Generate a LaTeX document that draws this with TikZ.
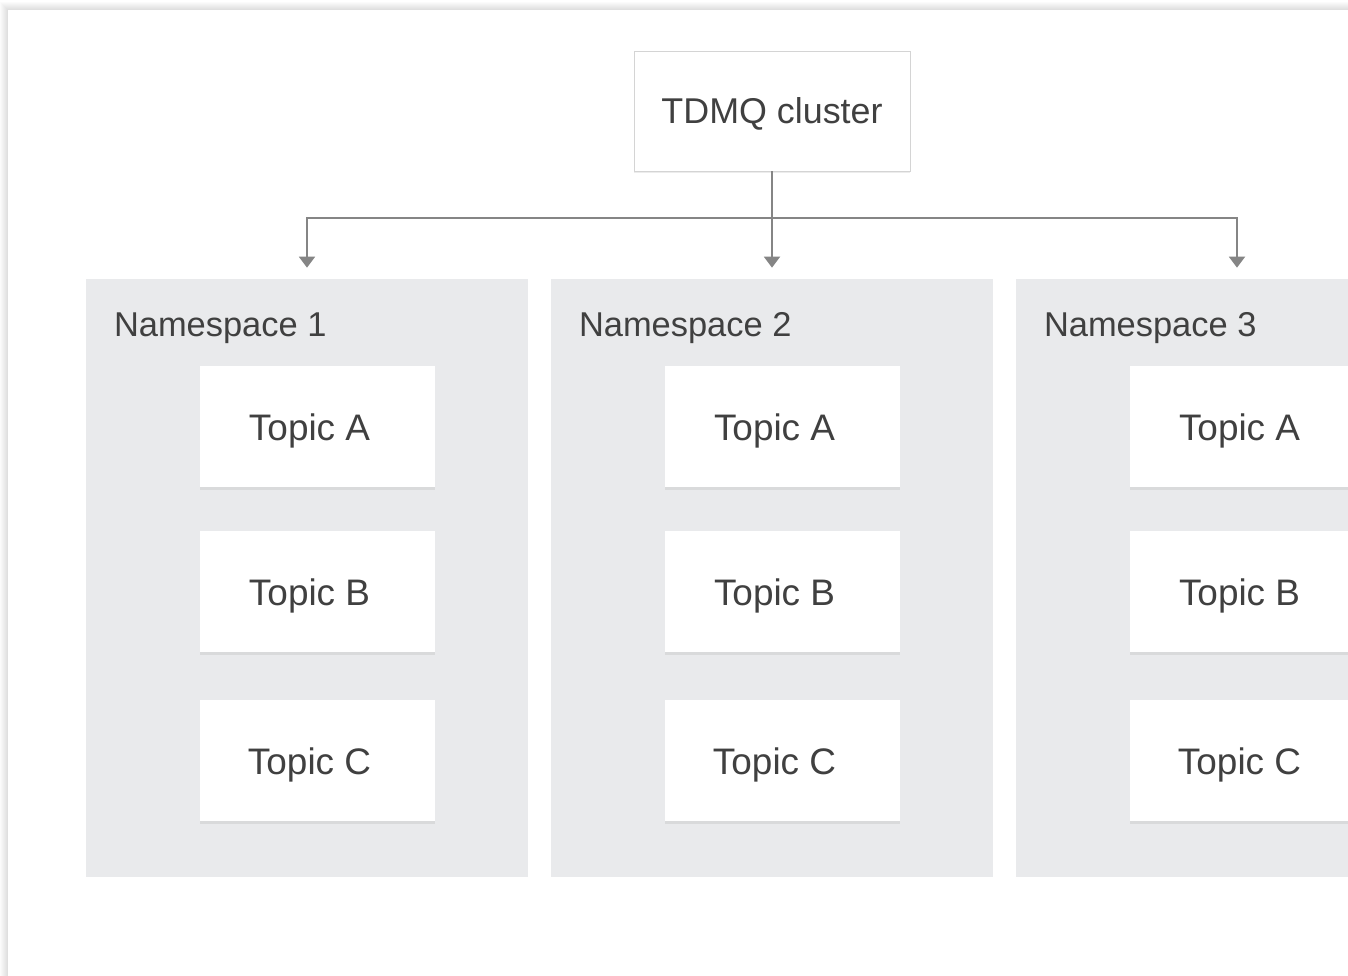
\documentclass[tikz,border=0pt]{standalone}
\usepackage{fontspec}
\setmainfont{Liberation Sans}
\usetikzlibrary{trees,arrows.meta,shadows}

\definecolor{nsgray}{HTML}{E9EAEC}
\definecolor{linegray}{HTML}{858585}
\definecolor{txtgray}{HTML}{404040}
\definecolor{edgegray}{HTML}{D4D4D4}

\tikzset{
  box/.style={fill=white, text=txtgray, inner sep=0pt, text depth=0pt,
    drop shadow={shadow xshift=0pt, shadow yshift=-0.05cm, opacity=0.15}},
  clusterbox/.style={box, draw=edgegray, line width=0.5pt,
    minimum width=5.52cm, minimum height=2.4cm, font=\fontsize{20.4}{24}\selectfont},
  panel/.style={fill=nsgray, minimum width=8.84cm, minimum height=11.96cm, inner sep=0pt},
  topicbox/.style={box, minimum width=4.7cm, minimum height=2.42cm,
    font=\fontsize{21}{25}\selectfont, execute at end node=\hspace{0.3cm}},
  nslabel/.style={text=txtgray, font=\fontsize{19.6}{23}\selectfont, inner sep=0pt, anchor=base west},
}

\begin{document}
\begin{tikzpicture}
  [level distance=9.34cm, sibling distance=9.3cm,
   edge from parent/.style={draw=linegray, line width=1.1pt,
     -{Triangle[width=0.32cm,length=0.22cm]}, shorten >=0.22cm},
   edge from parent path={(\tikzparentnode.south) -- ++(0,-0.94) -| (\tikzchildnode.north)}]
  \path[use as bounding box] (0,0) rectangle (26.96,-19.52);
  \clip (0,0) rectangle (26.96,-19.52);
  \fill[white] (0,0) rectangle (26.96,-19.52);
  % soft shadow round the sheet
  \foreach \d in {1,...,8}
    \fill[black, opacity=0.014] (0.16-\d*0.02,-0.2+\d*0.02) rectangle (28,-21);
  \fill[white] (0.16,-0.2) rectangle (28,-21);

  \node[clusterbox] (cluster) at (15.44,-2.22) {TDMQ cluster}
    child foreach \n in {1,2,3} {node[panel] (ns\n) {}};

  \foreach \n in {1,2,3}{
    \node[nslabel] (label\n) at ([xshift=0.56cm, yshift=-1.16cm]ns\n.north west) {Namespace \n};
    \foreach \t/\dy in {A/2.96cm, B/6.26cm, C/9.64cm}
      \node[topicbox] (topic\n\t) at ([xshift=0.2cm, yshift=-\dy]ns\n.north) {Topic \t};
  }
\end{tikzpicture}
\end{document}
